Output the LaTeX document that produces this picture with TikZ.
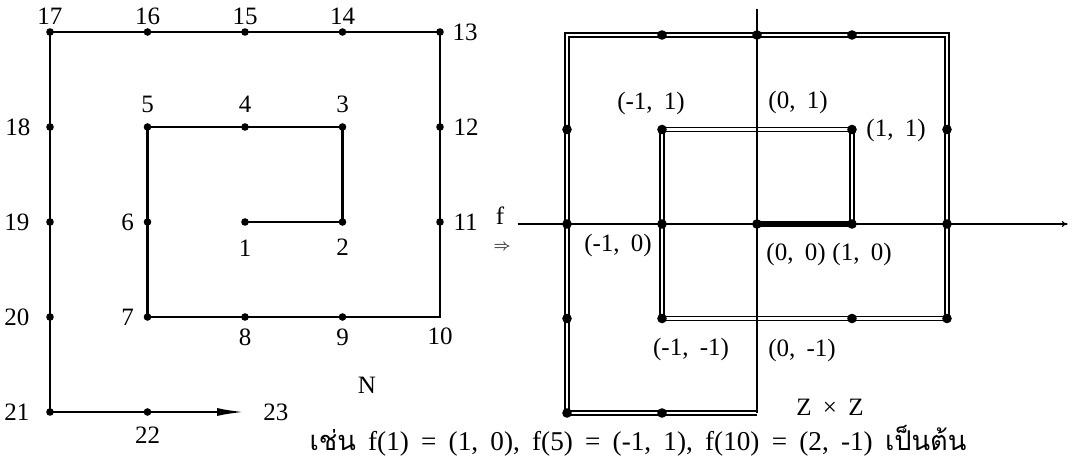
\documentclass[tikz,border=0pt]{standalone}
\usepackage{fontspec}
\setmainfont[WordSpace=1.8]{Liberation Serif}
\newfontfamily\thaifont[Script=Thai]{Loma}
\usetikzlibrary{arrows.meta,positioning}

\begin{document}
\begin{tikzpicture}[x=0.5pt,y=-0.5pt,
    every node/.style={font=\fontsize{12.5}{14}\selectfont},
    dot/.style={circle,fill,inner sep=0pt,minimum size=3.8pt},
    bigdot/.style={circle,fill,inner sep=0pt,minimum size=4.8pt},
    corner/.style={inner sep=0pt,minimum size=0pt},
    num/.style={inner sep=1pt},
    pair/.style={inner sep=1pt},
    spiral/.style={line width=1.2pt,line join=miter},
    dspiral/.style={double,line width=0.75pt,double distance=1.2pt,line join=miter},
    axis/.style={line width=0.55pt}]
  \useasboundingbox (0,0) rectangle (1078,460);

  % N
  \begin{scope}[shift={(245,222)},x=48.75pt,y=47.5pt]
    \foreach \n/\x/\y/\d/\s in {1/0/0/below/5.5, 2/1/0/below/5, 3/1/1/above/4,
        4/0/1/above/4, 5/-1/1/above/4, 6/-1/0/left/3.5, 7/-1/-1/left/3.5,
        8/0/-1/below/2.5, 9/1/-1/below/2.5, 11/2/0/right/3.5, 12/2/1/right/3.5,
        13/2/2/right/3, 14/1/2/above/0.5, 15/0/2/above/0.5, 16/-1/2/above/0.5,
        17/-2/2/above/0.5, 18/-2/1/left/6.5, 19/-2/0/left/7, 20/-2/-1/left/7,
        21/-2/-2/left/7, 22/-1/-2/below/4}
      \node[dot,label={[num,name=t\n,label distance=\s pt]\d:\n}] (p\n) at (\x,\y) {};
    \node[corner,label={[num,name=t10,label distance=4pt]below:10}] (p10) at (2,-1) {};
    \coordinate (p23) at (0,-2);
    \node[num,right=8pt of p23] (t23) {23};
    \draw[spiral] (p1.center) \foreach \k in {2,...,22}{ -- (p\k.center)};
    \draw[spiral,-{Latex[length=14pt,width=4pt]}] (p22.center) -- (p23);
  \end{scope}
  \node (nset) at (367,385) {N};

  % f
  \node (fmap) at (500,216) {f};
  \node[font=\footnotesize] (arr) at (502,247) {$\Rightarrow$};

  % Z x Z
  \begin{scope}[shift={(757,224)},x=47.5pt,y=47.25pt]
    \foreach \n/\x/\y in {1/0/0, 2/1/0, 3/1/1, 4/0/1, 5/-1/1, 6/-1/0, 7/-1/-1,
        8/0/-1, 9/1/-1, 10/2/-1, 11/2/0, 12/2/1, 13/2/2, 14/1/2, 15/0/2,
        16/-1/2, 17/-2/2, 18/-2/1, 19/-2/0, 20/-2/-1, 21/-2/-2, 22/-1/-2, 23/0/-2}
      \coordinate (q\n) at (\x,\y);
    \coordinate (xl) at (-2.52,0);
    \coordinate (xr) at (3.27,0);
    \coordinate (yt) at (0,2.28);
    \draw[dspiral] (q1) \foreach \k in {2,...,23}{ -- (q\k)};
    \draw[axis,-{To[length=3pt,width=3pt]}] (xl) -- (xr);
    \draw[axis] (yt) -- (q23);
    \foreach \n in {1,2,3,5,6,7,9,10,11,12,14,15,16,18,19,20,21,22}
      \node[bigdot] (d\n) at (q\n) {};
    \node[pair,xshift=19.5pt,yshift=-15pt] (c1) at (q1) {(0, 0)};
    \node[pair,xshift=5pt,yshift=-15pt] (c2) at (q2) {(1, 0)};
    \node[pair,xshift=22pt,yshift=-0.5pt] (c3) at (q3) {(1, 1)};
    \node[pair,xshift=20.5pt,yshift=13.5pt] (c4) at (q4) {(0, 1)};
    \node[pair,xshift=-5.5pt,yshift=13pt] (c5) at (q5) {(-1, 1)};
    \node[pair,xshift=-22pt,yshift=-10.5pt] (c6) at (q6) {(-1, 0)};
    \node[pair,xshift=14.5pt,yshift=-15.5pt] (c7) at (q7) {(-1, -1)};
    \node[pair,xshift=22.5pt,yshift=-16pt] (c8) at (q8) {(0, -1)};
  \end{scope}
  \node (zz) at (830,407) {Z × Z};

  \node[font=\fontsize{13.6}{16}\selectfont] (eg) at (638,441)
    {{\thaifont เช่น} f(1) = (1, 0), f(5) = (-1, 1), f(10) = (2, -1) {\thaifont เป็นต้น}};
\end{tikzpicture}
\end{document}
